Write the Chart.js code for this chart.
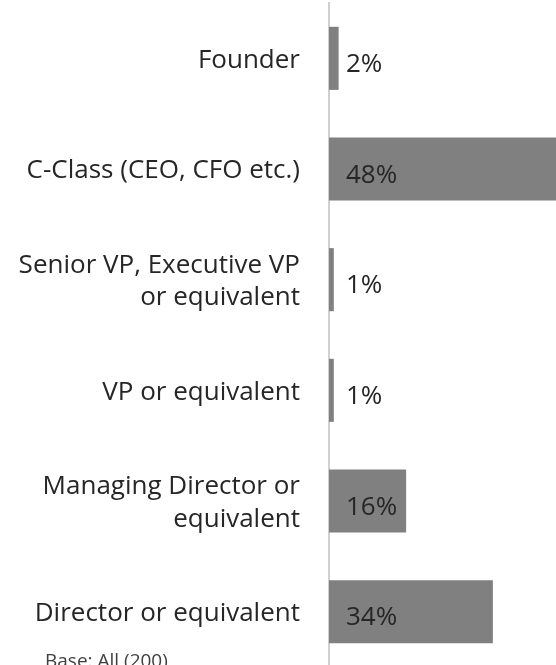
<!DOCTYPE html>
<html>
<head>
<meta charset="utf-8">
<script src="https://cdn.jsdelivr.net/npm/chart.js@4"></script>
<style>
  html, body { margin: 0; padding: 0; background: #fff; overflow: hidden; }
  #wrap { position: absolute; left: 0; top: 0; width: 556px; height: 667px; }
</style>
</head>
<body>
<div id="wrap"><canvas id="chart"></canvas></div>
<script>
// job level of respondents
const roles = [
    'Founder',
    'C-Class (CEO, CFO etc.)',
    ['Senior VP, Executive VP', 'or equivalent'],
    'VP or equivalent',
    ['Managing Director or', 'equivalent'],
    'Director or equivalent'
];
const shares = [2, 48, 1, 1, 16, 34];
const baseNote = 'Base: All (200)';

const FONT = "'Open Sans', 'Noto Sans', sans-serif";
const TEXT = '#262626';

const valueLabels = {
    id: 'valueLabels',
    afterDatasetsDraw(chart) {
        const ctx = chart.ctx;
        const x0 = chart.scales.x.getPixelForValue(0);
        ctx.save();
        ctx.font = '26px ' + FONT;
        ctx.fillStyle = TEXT;
        ctx.textAlign = 'left';
        ctx.textBaseline = 'alphabetic';
        chart.getDatasetMeta(0).data.forEach((bar, i) => {
            ctx.fillText(shares[i] + '%', x0 + 17, bar.y + 13.5);
        });
        ctx.restore();
    },
    afterDraw(chart) {
        const ctx = chart.ctx;
        ctx.save();
        ctx.font = '19px ' + FONT;
        ctx.fillStyle = '#404040';
        ctx.textAlign = 'left';
        ctx.textBaseline = 'alphabetic';
        ctx.fillText(baseNote, 45, 667);
        ctx.restore();
    }
};

const ctx = document.getElementById('chart').getContext('2d');
const myChart = new Chart(ctx, {
    type: 'bar',
    data: {
        labels: roles,
        datasets: [{
            data: shares,
            backgroundColor: '#808080',
            borderWidth: 0,
            barPercentage: 0.57,
            categoryPercentage: 1
        }]
    },
    options: {
        indexAxis: 'y',
        responsive: true,
        maintainAspectRatio: false,
        animation: false,
        layout: { padding: { top: 3, right: 0, bottom: 0, left: 0 } },
        plugins: {
            legend: { display: false },
            tooltip: { enabled: false }
        },
        scales: {
            x: {
                display: false,
                min: 0,
                max: 47.1
            },
            y: {
                afterFit: function(scale) {
                    scale.width = 329;
                    scale.paddingTop = 0;
                    scale.paddingBottom = 0;
                },
                grid: { display: false, drawTicks: false },
                border: { display: true, color: '#d0d0d0', width: 2 },
                ticks: {
                    color: TEXT,
                    padding: 29,
                    labelOffset: 2,
                    font: { family: FONT, size: 26, lineHeight: 1.24 }
                }
            }
        }
    },
    plugins: [valueLabels]
});
</script>
</body>
</html>
